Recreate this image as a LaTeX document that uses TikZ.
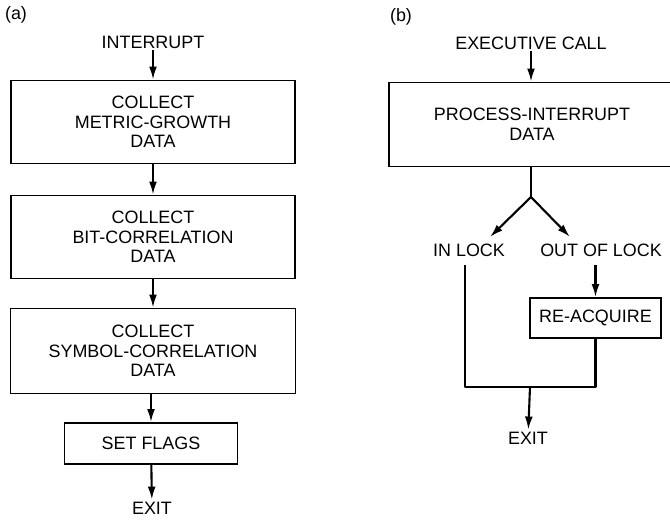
\documentclass[tikz,border=0pt]{standalone}
\usepackage{fontspec}
\setmainfont{Liberation Sans}
\usetikzlibrary{arrows.meta}
\tikzset{
  box/.style={draw=black, line width=0.9pt, rectangle, align=center,
    font=\fontsize{10.2}{11.2}\selectfont, inner sep=0pt},
  lbl/.style={font=\fontsize{10.2}{11.2}\selectfont, inner sep=1pt},
  flow/.style={line width=1.2pt, -{Latex[length=7.5pt, width=4.5pt]}},
  wire/.style={line width=1.2pt, line join=round}
}

\begin{document}
\begin{tikzpicture}[x=0.02cm, y=-0.02cm]
  % 1 px of the page = 0.02cm, y runs downwards
  \clip (0,0) rectangle (670,520);

  % --- (a) interrupt handler ---
  \node[lbl] (taga) at (16,15) {(a)};
  \node[lbl] (intr) at (153,42) {INTERRUPT};
  \node[box, minimum width=5.68cm, minimum height=1.66cm] (metric) at (153,122)
    {COLLECT\\METRIC-GROWTH\\DATA};
  \node[box, minimum width=5.68cm, minimum height=1.66cm] (bitcor) at (153,237)
    {COLLECT\\BIT-CORRELATION\\DATA};
  \node[box, minimum width=5.7cm, minimum height=1.7cm] (symcor) at (153,351)
    {COLLECT\\SYMBOL-CORRELATION\\DATA};
  \node[box, minimum width=3.46cm, minimum height=0.82cm] (flags) at (151,443.5)
    {SET FLAGS};
  \node[lbl] (exita) at (152,508) {EXIT};

  \draw[flow] (intr) -- (metric);
  \draw[flow] (metric) -- (bitcor);
  \draw[flow] (bitcor) -- (symcor);
  \draw[flow] (symcor.south -| flags.north) -- (flags);
  \draw[flow] (flags) -- (exita);

  % --- (b) executive call ---
  \node[lbl] (tagb) at (401,17) {(b)};
  \node[lbl] (exec) at (531,43) {EXECUTIVE CALL};
  \node[box, minimum width=5.72cm, minimum height=1.68cm] (proc) at (532,124.5)
    {PROCESS-INTERRUPT\\DATA};
  \node[lbl] (inlock) at (469,250) {IN LOCK};
  \node[lbl] (outlock) at (601,250) {OUT OF LOCK};
  \node[box, minimum width=2.62cm, minimum height=0.8cm] (reacq) at (595.5,318)
    {RE-ACQUIRE};
  \node[lbl] (exitb) at (528,438) {EXIT};

  \coordinate (fork) at (531,197);
  \coordinate (inend) at (490,237);
  \coordinate (outend) at (570,237);
  \coordinate (intop) at (465,265);
  \coordinate (outtop) at (595.5,265);
  \coordinate (join) at (530,387);

  \draw[flow] (exec) -- (proc.north -| exec);
  \draw[wire] (proc.south -| fork) -- (fork);
  \draw[flow] (fork) -- (inend);
  \draw[flow] (fork) -- (outend);
  \draw[flow] (outtop) -- (reacq);
  \draw[wire] (intop) -- (intop |- join) -- (reacq.south |- join) -- (reacq);
  \draw[flow] (join) -- (exitb);

\end{tikzpicture}
\end{document}
